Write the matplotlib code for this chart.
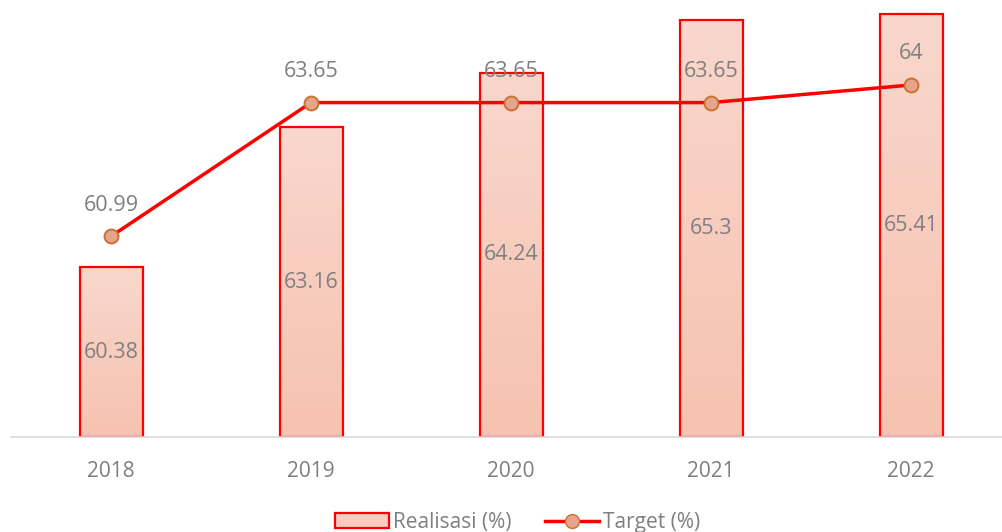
import numpy as np
import matplotlib.pyplot as plt
from matplotlib.colors import LinearSegmentedColormap
from matplotlib.patches import Rectangle
from matplotlib.lines import Line2D

years = ['2018', '2019', '2020', '2021', '2022']
realisasi = [60.38, 63.16, 64.24, 65.3, 65.41]
target = [60.99, 63.65, 63.65, 63.65, 64]
target_labels = ['60.99', '63.65', '63.65', '63.65', '64']

plt.rcParams['font.family'] = ['Open Sans', 'DejaVu Sans']
gray = '#7F7F7F'

fig = plt.figure(figsize=(10.03, 5.32), dpi=100)
ax = fig.add_axes([11 / 1003, 95 / 532, 992 / 1003, 437 / 532])
ymin, ymax = 57, 65.69
ax.set_xlim(-0.5, 4.46)
ax.set_ylim(ymin, ymax)

x = np.arange(len(years))
w = 0.315
cmap = LinearSegmentedColormap.from_list('g', ['#F6C2AF', '#F9D7CD'])
grad = np.linspace(0, 1, 256).reshape(-1, 1)
for xi, v in zip(x, realisasi):
    im = ax.imshow(grad, cmap=cmap, origin='lower', aspect='auto',
                   extent=[xi - w / 2, xi + w / 2, ymin, v], zorder=1)
    rect = Rectangle((xi - w / 2, ymin), w, v - ymin, facecolor='none',
                     edgecolor='#FF0000', linewidth=1.6, zorder=2)
    ax.add_patch(rect)
    im.set_clip_path(rect)
    ax.text(xi, (ymin + v) / 2, f'{v:g}', ha='center', va='center',
            color=gray, fontsize=15.5, zorder=5)

ax.plot(x, target, color='#FF0000', lw=2.5, marker='o', markersize=10,
        markerfacecolor='#E6A48C', markeredgecolor='#C9712F',
        markeredgewidth=1.4, zorder=4)
for xi, v, lab in zip(x, target, target_labels):
    ax.text(xi, v + 0.62, lab, ha='center', va='center', color=gray,
            fontsize=15.5, zorder=5)

for s in ['top', 'right', 'left']:
    ax.spines[s].set_visible(False)
ax.spines['bottom'].set_color('#D9D9D9')
ax.spines['bottom'].set_linewidth(1.2)
ax.set_yticks([])
ax.set_xticks(x)
ax.set_xticklabels(years, color=gray, fontsize=15)
ax.tick_params(axis='x', length=0, pad=17)

handles = [Rectangle((0, 0), 1, 1, facecolor='#F8CDBF', edgecolor='#FF0000', lw=1.6),
           Line2D([], [], color='#FF0000', lw=2.5, marker='o', markersize=10,
                  markerfacecolor='#E6A48C', markeredgecolor='#C9712F')]
fig.legend(handles, ['Realisasi (%)', 'Target (%)'], loc='center',
           bbox_to_anchor=(0.516, 0.018), ncol=2, frameon=False,
           fontsize=15, labelcolor=gray, handlelength=2.6, columnspacing=1.6,
           handletextpad=0.2)

fig.savefig('out.png', dpi=100)
